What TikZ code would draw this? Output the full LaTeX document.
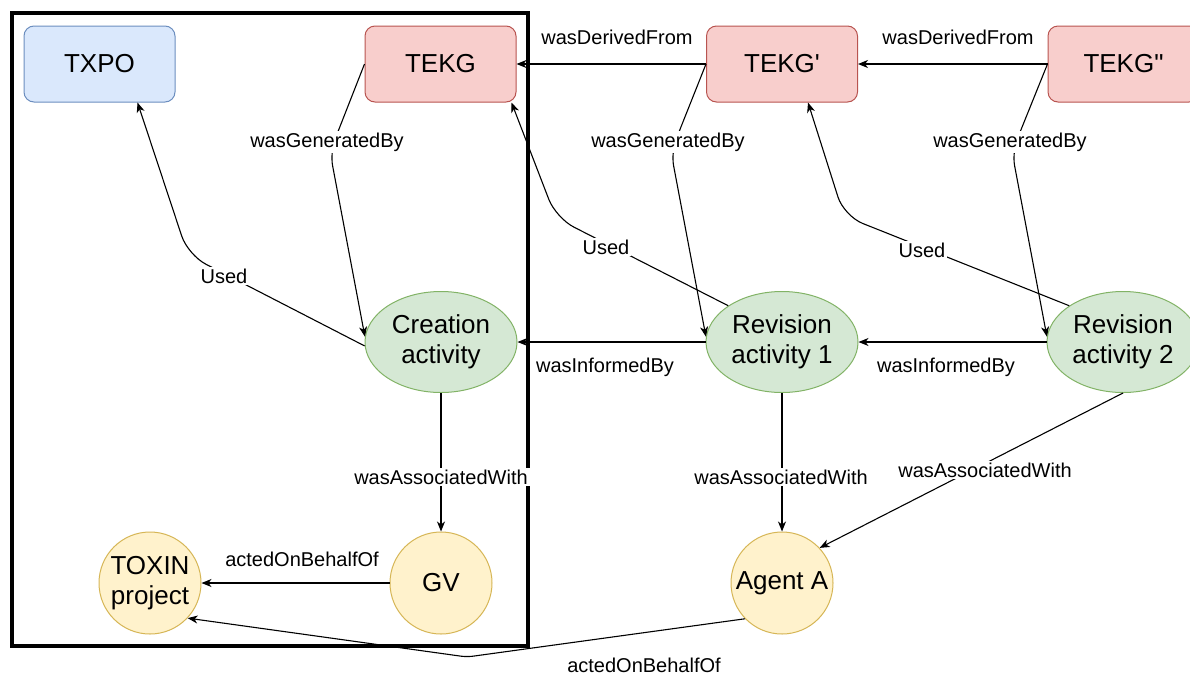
\documentclass[tikz,border=0pt]{standalone}
\usepackage{fontspec}
\setmainfont{Liberation Sans}[Ligatures=TeXOff]
\usetikzlibrary{shapes.geometric,arrows.meta,calc}
\definecolor{bluefill}{HTML}{DAE8FC}\definecolor{bluedraw}{HTML}{6C8EBF}
\definecolor{redfill}{HTML}{F8CECC}\definecolor{reddraw}{HTML}{B85450}
\definecolor{greenfill}{HTML}{D5E8D4}\definecolor{greendraw}{HTML}{82B366}
\definecolor{yellowfill}{HTML}{FFF2CC}\definecolor{yellowdraw}{HTML}{D6B656}
\begin{document}
\begin{tikzpicture}[x=1pt,y=-1pt,
  boxnode/.style={rectangle, rounded corners=10pt, minimum width=151pt, minimum height=76pt, inner sep=0pt, line width=1pt, font=\fontsize{26}{30}\selectfont},
  tekgbox/.style={boxnode, draw=reddraw, fill=redfill},
  txpobox/.style={boxnode, draw=bluedraw, fill=bluefill},
  actnode/.style={ellipse, draw=greendraw, fill=greenfill, minimum width=152pt, minimum height=101pt, inner sep=0pt, line width=1pt, align=center, font=\fontsize{26}{30}\selectfont},
  agentnode/.style={ellipse, draw=yellowdraw, fill=yellowfill, minimum width=102pt, minimum height=102pt, inner xsep=-12pt, inner ysep=0pt, line width=1pt, align=center, font=\fontsize{26}{30}\selectfont},
  lbl/.style={font=\fontsize{20}{24}\selectfont, inner sep=2pt},
  lblw/.style={lbl, fill=white},
  edge/.style={draw=black, line width=1.1pt, -{Stealth[length=10pt,width=8pt,inset=3pt]}},
  framebox/.style={rectangle, draw=black, line width=4pt, minimum width=516pt, minimum height=633pt, inner sep=0pt}
]
\useasboundingbox (0,0) rectangle (1190,675);
\clip (0,0) rectangle (1190,675);

\node[framebox] (frame) at (270,329.5) {};

\node[txpobox] (txpo) at (99.5,64) {TXPO};
\node[tekgbox] (tekg) at (440.5,64) {TEKG};
\node[tekgbox] (tekgp) at (782,64) {TEKG'};
\node[tekgbox] (tekgpp) at (1123.5,64) {TEKG"};
\node[actnode] (creation) at (441,342) {Creation\\activity};
\node[actnode] (rev1) at (782,342) {Revision\\activity 1};
\node[actnode] (rev2) at (1123,342) {Revision\\activity 2};
\node[agentnode] (toxin) at (150,583) {TOXIN\\project};
\node[agentnode] (gv) at (441,583) {GV};
\node[agentnode] (agent) at (782,583) {Agent A};

\draw[edge] (tekgp.west) -- (tekg.east);
\draw[edge] (tekgpp.west) -- (tekgp.east);
\draw[edge, rounded corners=14pt] (tekg.west) -- (330,152) -- (creation.176);
\draw[edge, rounded corners=14pt] (tekgp.west) -- (671,152) -- (rev1.176);
\draw[edge, rounded corners=14pt] (tekgpp.west) -- (1012,152) -- (rev2.176);
\draw[edge, rounded corners=20pt] (creation.183) -- (188,255) -- ($(txpo.south)+(38,0)$);
\draw[edge, rounded corners=20pt] (rev1.146) -- (556,218) -- ($(tekg.south)+(71,0)$);
\draw[edge, rounded corners=20pt] (rev2.146) -- (844,216) -- ($(tekgp.south)+(26,0)$);
\draw[edge] (rev1.west) -- (creation.east);
\draw[edge] (rev2.west) -- (rev1.east);
\draw[edge] (creation.south) -- (gv.north);
\draw[edge] (rev1.south) -- (agent.north);
\draw[edge] (rev2.south) -- (agent.43);
\draw[edge] (gv.west) -- (toxin.east);
\draw[edge, rounded corners=6pt] (agent.224) -- (467,657) -- (toxin.-43);

\node[lbl] (ldf1) at (617,37) {wasDerivedFrom};
\node[lbl] (ldf2) at (958,37) {wasDerivedFrom};
\node[lblw] (lgb1) at (327,142) {wasGeneratedBy};
\node[lblw] (lgb2) at (668,142) {wasGeneratedBy};
\node[lblw] (lgb3) at (1010,142) {wasGeneratedBy};
\node[lblw] (lu1) at (224,276) {Used};
\node[lblw] (lu2) at (606,247) {Used};
\node[lblw] (lu3) at (922,250) {Used};
\node[lbl] (lib1) at (605,367) {wasInformedBy};
\node[lbl] (lib2) at (946,367) {wasInformedBy};
\node[lblw] (law1) at (441,477) {wasAssociatedWith};
\node[lblw] (law2) at (781,477) {wasAssociatedWith};
\node[lblw] (law3) at (985,470) {wasAssociatedWith};
\node[lbl] (lob1) at (302,559) {actedOnBehalfOf};
\node[lbl] (lob2) at (644,665) {actedOnBehalfOf};
\end{tikzpicture}
\end{document}
